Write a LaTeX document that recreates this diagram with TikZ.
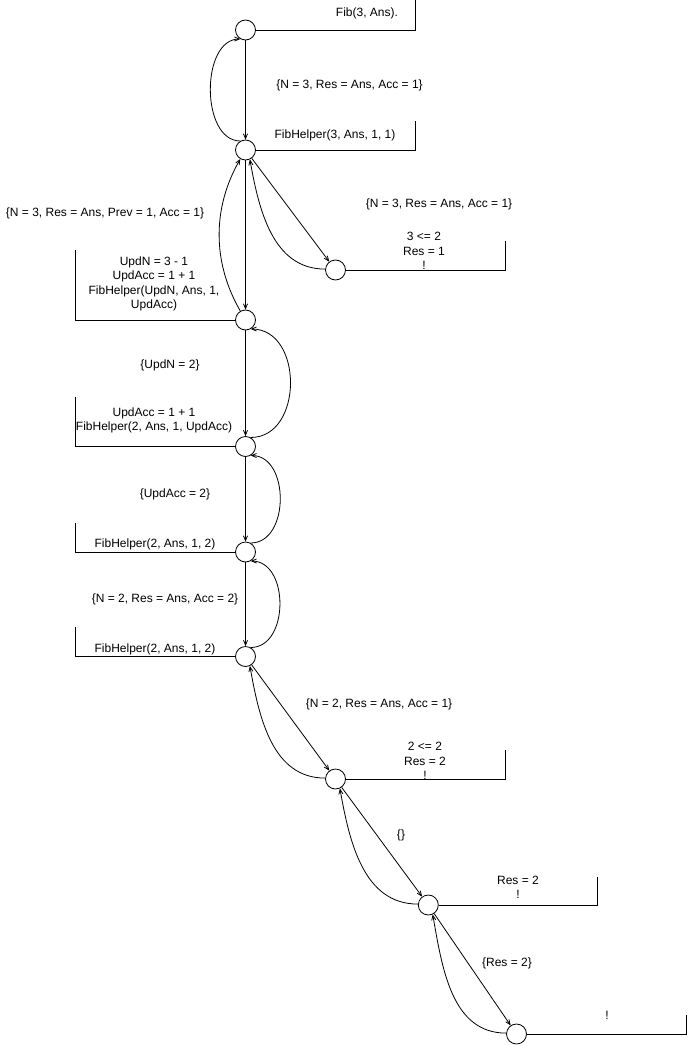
\documentclass[tikz,border=0pt]{standalone}
\usepackage{fontspec}
\setmainfont{Liberation Sans}
\usetikzlibrary{arrows}

\begin{document}
\begin{tikzpicture}[->,>=angle 45,
    x=1pt, y=1pt,
    line width=0.8pt,
    every node/.style={font=\fontsize{12}{14.4}\selectfont, inner sep=0pt},
    st/.style={circle,
          draw,
          fill = white,
          minimum size = 20pt},
    txt/.style={align=center}]

    \useasboundingbox (0,0) rectangle (689,-1046);

    % states
    \node[st] (c1) at (245.5,-30) {};
    \node[st] (c2) at (245.5,-150) {};
    \node[st] (c3) at (335.5,-270) {};
    \node[st] (c4) at (245.5,-320) {};
    \node[st] (c5) at (245.5,-446.5) {};
    \node[st] (c6) at (245.5,-552) {};
    \node[st] (c7) at (245.5,-656.5) {};
    \node[st] (c8) at (335.5,-779) {};
    \node[st] (c9) at (428.3,-905) {};
    \node[st] (c10) at (516.5,-1034) {};

    % frame ends
    \coordinate (f1) at (415,0);
    \coordinate (f2) at (415,-121);
    \coordinate (f3) at (505.5,-241);
    \coordinate (f4) at (75.5,-250);
    \coordinate (f5) at (75.5,-397);
    \coordinate (f6) at (75.5,-523);
    \coordinate (f7) at (75.5,-627);
    \coordinate (f8) at (505.5,-750);
    \coordinate (f9) at (597.5,-877);
    \coordinate (f10) at (686,-1015);

    \draw[-] (c1.east) -| (f1);
    \draw[-] (c2.east) -| (f2);
    \draw[-] (c3.east) -| (f3);
    \draw[-] (c4.west) -| (f4);
    \draw[-] (c5.west) -| (f5);
    \draw[-] (c6.west) -| (f6);
    \draw[-] (c7.west) -| (f7);
    \draw[-] (c8.east) -| (f8);
    \draw[-] (c9.east) -| (f9);
    \draw[-] (c10.east) -| (f10);

    % goals
    \node[txt] (g1) at (367,-13) {Fib(3, Ans).};
    \node[txt] (g2) at (335,-135) {FibHelper(3, Ans, 1, 1)};
    \node[txt] (g3) at (424,-251) {3 <= 2\\Res = 1\\!};
    \node[txt] (g4) at (154,-284) {UpdN = 3 - 1\\UpdAcc = 1 + 1\\FibHelper(UpdN, Ans, 1,\\UpdAcc)};
    \node[txt] (g5) at (154,-420.5) {UpdAcc = 1 + 1\\FibHelper(2, Ans, 1, UpdAcc)};
    \node[txt] (g6) at (155,-544) {FibHelper(2, Ans, 1, 2)};
    \node[txt] (g7) at (155,-649) {FibHelper(2, Ans, 1, 2)};
    \node[txt] (g8) at (425,-761) {2 <= 2\\Res = 2\\!};
    \node[txt] (g9) at (518,-887) {Res = 2\\!};
    \node[txt] (g10) at (607,-1015) {!};

    % substitutions
    \node (s1) at (349.5,-85) {\{N = 3, Res = Ans, Acc = 1\}};
    \node (s2) at (105,-213) {\{N = 3, Res = Ans, Prev = 1, Acc = 1\}};
    \node (s3) at (439,-204) {\{N = 3, Res = Ans, Acc = 1\}};
    \node (s4) at (170,-365) {\{UpdN = 2\}};
    \node (s5) at (175,-494) {\{UpdAcc = 2\}};
    \node (s6) at (165,-599) {\{N = 2, Res = Ans, Acc = 2\}};
    \node (s7) at (379,-704) {\{N = 2, Res = Ans, Acc = 1\}};
    \node (s8) at (401,-835) {\{\}};
    \node (s9) at (507,-963) {\{Res = 2\}};

    \path
    % down the tree
     (c1) edge (c2)
     (c2) edge (c3)
     (c2) edge (c4)
     (c4) edge (c5)
     (c5) edge (c6)
     (c6) edge (c7)
     (c7) edge (c8)
     (c8) edge (c9)
     (c9) edge (c10)
    % back up
     (c2.120) edge[out=180, in=180] (c1.240)
     (c3.175) edge[out=180, in=-80] (c2.-65)
     (c4.120) edge[out=120, in=240, looseness=0.95] (c2.240)
     (c5.60) edge[out=0, in=0, looseness=1.25] (c4.-60)
     (c6.60) edge[out=0, in=0, looseness=1.15] (c5.-60)
     (c7.60) edge[out=0, in=0, looseness=1.15] (c6.-60)
     (c8.175) edge[out=180, in=-80] (c7.-65)
     (c9.175) edge[out=180, in=-80] (c8.-65)
     (c10.175) edge[out=180, in=-80] (c9.-65);

\end{tikzpicture}
\end{document}
